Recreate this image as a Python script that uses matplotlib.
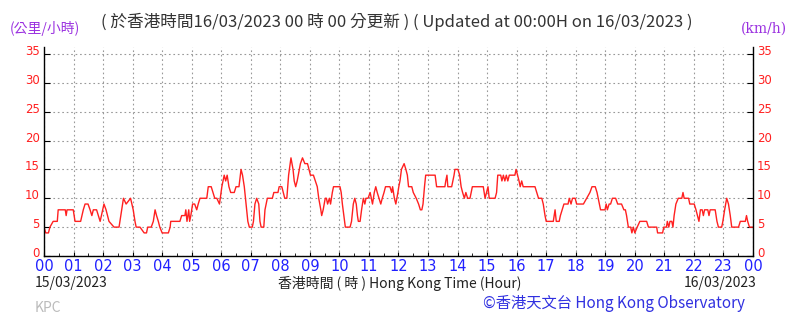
import numpy as np
import matplotlib
matplotlib.use("Agg")
import matplotlib.pyplot as plt
from matplotlib.ticker import MultipleLocator
from matplotlib.transforms import ScaledTranslation

plt.rcParams['font.family'] = ['Noto Sans CJK TC', 'DejaVu Sans']

# wind speed (km/h), time in hours from 00:00 15/03/2023
hours = [
    0.00, 0.06, 0.15, 0.20, 0.31, 0.45, 0.48, 0.72, 0.75, 0.78, 0.99, 1.05, 1.24, 1.33, 1.39,
    1.49, 1.56, 1.62, 1.67, 1.78, 1.84, 1.90, 2.03, 2.10, 2.15, 2.20, 2.37, 2.54, 2.63, 2.69,
    2.78, 2.93, 3.02, 3.08, 3.12, 3.25, 3.39, 3.47, 3.51, 3.63, 3.70, 3.76, 3.81, 3.87, 3.92,
    4.00, 4.21, 4.27, 4.29, 4.60, 4.66, 4.77, 4.80, 4.84, 4.90, 4.93, 4.97, 5.03, 5.10, 5.17,
    5.22, 5.28, 5.51, 5.56, 5.66, 5.72, 5.78, 5.85, 5.94, 6.02, 6.10, 6.15, 6.20, 6.26, 6.32,
    6.44, 6.50, 6.60, 6.67, 6.72, 6.78, 6.84, 6.90, 6.95, 7.05, 7.09, 7.14, 7.20, 7.27, 7.31,
    7.35, 7.44, 7.48, 7.56, 7.73, 7.78, 7.92, 7.96, 8.05, 8.10, 8.15, 8.22, 8.28, 8.36, 8.43,
    8.47, 8.52, 8.57, 8.68, 8.75, 8.83, 8.92, 8.97, 9.02, 9.12, 9.25, 9.30, 9.37, 9.40, 9.45,
    9.52, 9.56, 9.60, 9.66, 9.70, 9.76, 9.80, 10.02, 10.06, 10.10, 10.15, 10.20, 10.36, 10.41, 10.47,
    10.52, 10.57, 10.61, 10.64, 10.70, 10.75, 10.81, 10.86, 10.90, 10.97, 11.04, 11.08, 11.12, 11.18, 11.23,
    11.28, 11.34, 11.40, 11.45, 11.51, 11.56, 11.71, 11.77, 11.80, 11.86, 11.91, 11.98, 12.01, 12.05, 12.10,
    12.19, 12.25, 12.30, 12.34, 12.45, 12.50, 12.60, 12.68, 12.74, 12.79, 12.83, 12.88, 12.92, 13.24, 13.29,
    13.57, 13.60, 13.64, 13.67, 13.80, 13.84, 13.88, 13.91, 14.01, 14.07, 14.12, 14.17, 14.23, 14.28, 14.34,
    14.42, 14.50, 14.87, 14.93, 14.98, 15.03, 15.07, 15.27, 15.32, 15.36, 15.46, 15.50, 15.55, 15.60, 15.65,
    15.70, 15.75, 15.94, 15.98, 16.03, 16.08, 16.12, 16.17, 16.22, 16.62, 16.68, 16.74, 16.85, 16.90, 16.96,
    17.00, 17.24, 17.30, 17.34, 17.44, 17.48, 17.54, 17.60, 17.74, 17.78, 17.84, 17.89, 17.98, 18.03, 18.26,
    18.37, 18.48, 18.55, 18.66, 18.72, 18.80, 18.84, 18.99, 19.03, 19.07, 19.13, 19.18, 19.24, 19.35, 19.42,
    19.55, 19.63, 19.68, 19.72, 19.78, 19.86, 19.90, 19.95, 20.00, 20.08, 20.17, 20.40, 20.46, 20.74, 20.77,
    20.94, 20.98, 21.07, 21.10, 21.15, 21.19, 21.25, 21.29, 21.33, 21.39, 21.47, 21.59, 21.63, 21.67, 21.82,
    21.86, 22.01, 22.07, 22.12, 22.17, 22.22, 22.28, 22.32, 22.36, 22.47, 22.51, 22.55, 22.72, 22.78, 22.83,
    22.94, 22.98, 23.04, 23.11, 23.17, 23.23, 23.28, 23.51, 23.57, 23.74, 23.78, 23.82, 23.88, 24.00,
]
speed = [
    5, 4, 4, 5, 6, 6, 8, 8, 7, 8, 8, 6, 6, 8, 9,
    9, 8, 7, 8, 8, 7, 6, 9, 8, 7, 6, 5, 5, 8, 10,
    9, 10, 8, 6, 5, 5, 4, 4, 5, 5, 6, 8, 7, 6, 5,
    4, 4, 5, 6, 6, 7, 7, 8, 6, 8, 6, 7, 9, 9, 8,
    9, 10, 10, 12, 12, 11, 10, 10, 9, 12, 14, 13, 14, 12, 11,
    11, 12, 12, 15, 14, 12, 9, 6, 5, 5, 6, 9, 10, 9, 6,
    5, 5, 8, 10, 10, 11, 11, 12, 12, 11, 10, 10, 14, 17, 15,
    13, 12, 13, 16, 17, 16, 16, 15, 14, 14, 12, 10, 8, 7, 8,
    10, 10, 9, 10, 9, 11, 12, 12, 11, 9, 7, 5, 5, 6, 9,
    10, 9, 7, 6, 6, 8, 10, 9, 10, 10, 11, 10, 9, 11, 12,
    11, 10, 9, 10, 11, 12, 12, 11, 12, 10, 9, 11, 12, 13, 15,
    16, 15, 14, 12, 12, 11, 10, 9, 8, 8, 9, 12, 14, 14, 12,
    12, 13, 14, 12, 12, 13, 14, 15, 15, 14, 12, 11, 10, 11, 10,
    10, 12, 12, 10, 11, 12, 10, 10, 11, 14, 14, 13, 14, 13, 14,
    13, 14, 14, 15, 14, 13, 12, 13, 12, 12, 11, 10, 10, 9, 7,
    6, 6, 8, 6, 6, 7, 8, 9, 9, 10, 9, 10, 10, 9, 9,
    10, 11, 12, 12, 11, 9, 8, 8, 9, 8, 9, 9, 10, 10, 9,
    9, 8, 8, 7, 5, 5, 4, 5, 4, 5, 6, 6, 5, 5, 4,
    4, 5, 5, 6, 5, 6, 6, 5, 7, 9, 10, 10, 11, 10, 10,
    9, 9, 8, 7, 6, 8, 8, 7, 8, 8, 7, 8, 8, 6, 5,
    5, 6, 8, 10, 9, 7, 5, 5, 6, 6, 7, 6, 5, 5,
]
hour_labels = ['%02d' % (h % 24) for h in range(25)]

fig = plt.figure(figsize=(8.03, 3.17), dpi=100)
ax = fig.add_axes([44 / 803, 61 / 317, 709 / 803, 209 / 317])

ax.plot(hours, speed, color='#ff2020', lw=1.0)

ax.set_xlim(0, 24)
ax.set_ylim(0, 36.2)
ax.set_xticks(range(25))
ax.set_xticklabels(hour_labels)
ax.xaxis.set_minor_locator(MultipleLocator(0.5))
ax.set_yticks(range(0, 36, 5))
ax.grid(True, which='major', color='#999999', ls=(0, (1.5, 2.5)), lw=0.8)

ax.spines['top'].set_visible(False)
for s in ['left', 'right', 'bottom']:
    ax.spines[s].set_color('black')
    ax.spines[s].set_linewidth(1.0)

ax.tick_params(axis='x', which='major', direction='in', length=3, colors='black',
               labelcolor='#2020ff', labelsize=10.5, pad=2)
ax.tick_params(axis='x', which='minor', direction='in', length=2, colors='black')
ax.tick_params(axis='y', which='major', direction='in', length=4, colors='black',
               labelcolor='#ff2020', labelsize=8.5, labelright=True, right=True, pad=3)
for lbl in ax.get_xticklabels():
    lbl.set_family('DejaVu Sans')
# the zero labels sit a little above the axis line, as in the original
lift = ScaledTranslation(0, 4 / 100, fig.dpi_scale_trans)
for tick in ax.yaxis.get_major_ticks():
    for lbl in (tick.label1, tick.label2):
        lbl.set_family('DejaVu Sans')
    if tick.get_loc() == 0:
        tick.label1.set_transform(tick.label1.get_transform() + lift)
        tick.label2.set_transform(tick.label2.get_transform() + lift)

fig.text(10 / 803, 1 - 28 / 317, '(公里/小時)', color='#9a30e0', fontsize=10, va='center', ha='left')
fig.text(787 / 803, 1 - 29 / 317, '(km/h)', color='#9a30e0', fontsize=10, va='center', ha='right',
         family='DejaVu Serif')
fig.text(397 / 803, 1 - 22 / 317,
         '( 於香港時間16/03/2023 00 時 00 分更新 ) ( Updated at 00:00H on 16/03/2023 )',
         color='#333333', fontsize=12, va='center', ha='center')
fig.text(35 / 803, 1 - 283 / 317, '15/03/2023', color='#222222', fontsize=10, va='center', ha='left')
fig.text(400 / 803, 1 - 283 / 317, '香港時間 ( 時 ) Hong Kong Time (Hour)', color='#222222',
         fontsize=10, va='center', ha='center')
fig.text(757 / 803, 1 - 283 / 317, '16/03/2023', color='#222222', fontsize=10, va='center', ha='right')
fig.text(745 / 803, 1 - 303 / 317, '©香港天文台 Hong Kong Observatory', color='#3030e0',
         fontsize=11, va='center', ha='right')
fig.text(35 / 803, 1 - 308 / 317, 'KPC', color='#bbbbbb', fontsize=10, va='center', ha='left')

fig.savefig('out.png', dpi=100)
